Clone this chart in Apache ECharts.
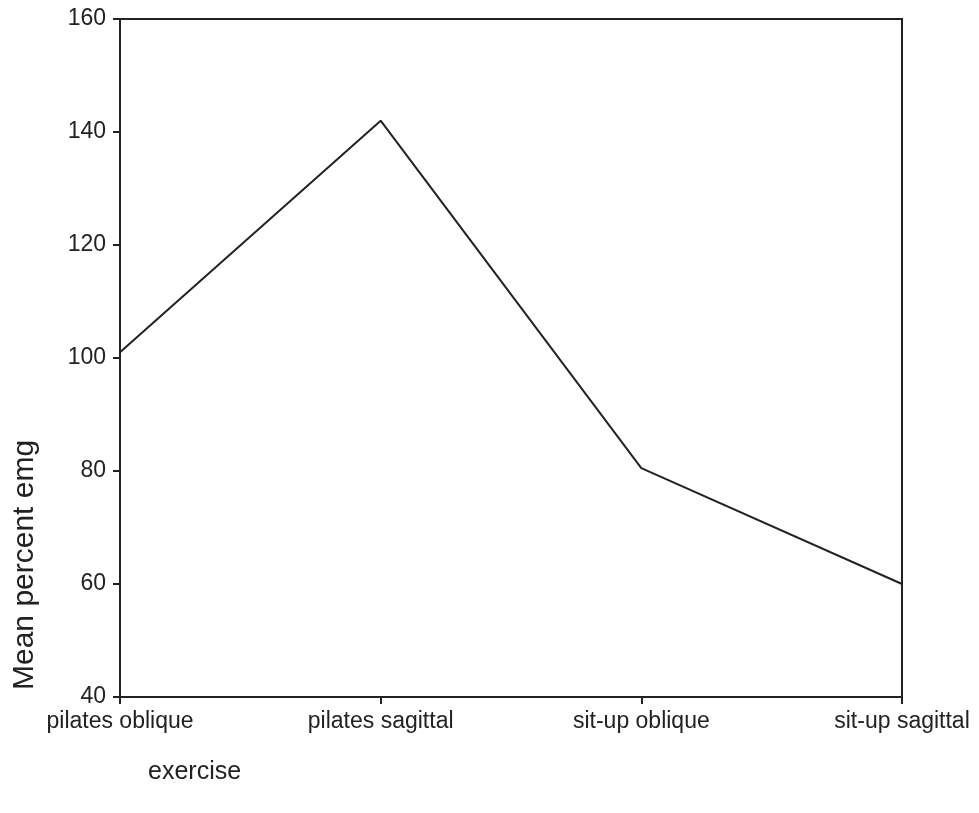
<!DOCTYPE html>
<html><head><meta charset="utf-8">
<script src="https://cdn.jsdelivr.net/npm/echarts@6/dist/echarts.min.js"></script>
<style>html,body{margin:0;padding:0;background:#fff}#c{width:979px;height:813px}</style>
</head><body><div id="c"></div>
<script>
var categories = ['pilates oblique', 'pilates sagittal', 'sit-up oblique', 'sit-up sagittal'];
var meanEmg = [101, 142, 80.5, 60];
var yTicks = [40, 60, 80, 100, 120, 140, 160];

var chart = echarts.init(document.getElementById('c'), null, {renderer: 'canvas'});
var font = 'Liberation Sans, Arial, Helvetica, sans-serif';
chart.setOption({
  animation: false,
  backgroundColor: '#fff',
  grid: {left: 120, right: 77, top: 19, bottom: 116, show: true, borderColor: '#222', borderWidth: 2, backgroundColor: 'transparent'},
  xAxis: {
    type: 'category', data: categories, boundaryGap: false,
    axisLine: {show: true, lineStyle: {color: '#222', width: 2}},
    axisTick: {show: true, alignWithLabel: true, length: 7, lineStyle: {color: '#222', width: 2}},
    axisLabel: {color: '#222', fontSize: 23, fontFamily: font, margin: 13, interval: 0},
    splitLine: {show: false}
  },
  yAxis: {
    type: 'value', min: yTicks[0], max: yTicks[yTicks.length - 1], interval: 20,
    axisLine: {show: true, lineStyle: {color: '#222', width: 2}},
    axisTick: {show: true, length: 7, lineStyle: {color: '#222', width: 2}},
    axisLabel: {color: '#222', fontSize: 23, fontFamily: font, margin: 14},
    splitLine: {show: false}
  },
  graphic: [
    {type: 'text', left: 148, top: 760, style: {text: 'exercise', fontSize: 25, fontFamily: font, fill: '#222'}},
    {type: 'text', x: 10, y: 690, rotation: Math.PI / 2, style: {text: 'Mean percent emg', fontSize: 30, fontFamily: font, fill: '#222', textAlign: 'left', textVerticalAlign: 'top'}}
  ],
  series: [{
    type: 'line', data: meanEmg, symbol: 'none',
    lineStyle: {color: '#222', width: 2}
  }]
});
</script></body></html>
